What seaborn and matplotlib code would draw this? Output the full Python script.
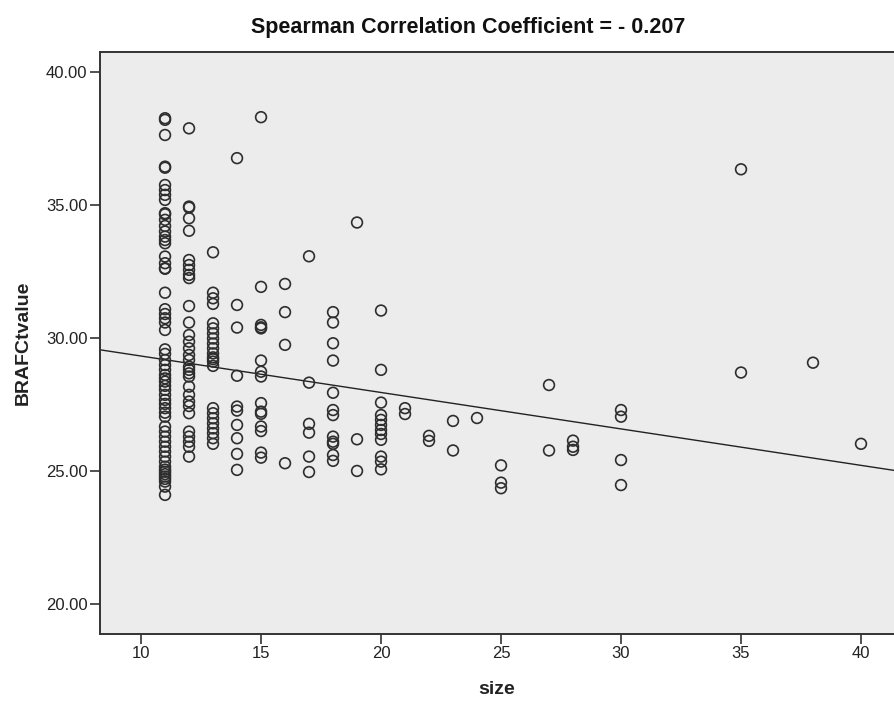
import matplotlib
matplotlib.use("Agg")
import matplotlib.pyplot as plt
import seaborn as sns
import numpy as np
import pandas as pd
from matplotlib.ticker import FormatStrFormatter

# BRAF Ct value per tumour size
ct_11 = [38.26, 38.2, 37.63, 36.44, 36.4, 35.75, 35.56, 35.38, 35.19, 34.69, 34.65,
         34.44, 34.21, 34.0, 33.81, 33.68, 33.56, 33.06, 32.81, 32.62, 32.6, 31.70,
         31.08, 30.90, 30.74, 30.58, 30.30, 29.57, 29.40, 29.17, 28.98, 28.80, 28.61,
         28.48, 28.36, 28.20, 28.05, 27.86, 27.67, 27.52, 27.36, 27.19, 27.04, 26.67,
         26.48, 26.29, 26.10, 25.91, 25.73, 25.54, 25.35, 25.16, 25.05, 24.97, 24.88,
         24.79, 24.7, 24.60, 24.41, 24.10]
ct_12 = [37.88, 34.94, 34.9, 34.5, 34.03, 32.93, 32.74, 32.56, 32.37, 32.25, 31.2,
         30.58, 30.11, 29.86, 29.61, 29.36, 29.17, 28.92, 28.80, 28.67, 28.55, 28.17,
         27.86, 27.61, 27.44, 27.17, 26.48, 26.29, 26.10, 25.91, 25.54]
ct_13 = [33.22, 31.70, 31.49, 31.28, 30.55, 30.36, 30.17, 29.98, 29.79, 29.61, 29.42,
         29.27, 29.2, 29.11, 28.95, 27.36, 27.17, 26.98, 26.79, 26.60, 26.42, 26.23, 26.02]
ct_14 = [36.76, 31.24, 30.39, 28.58, 27.42, 27.27, 26.73, 26.23, 25.64, 25.04]
ct_15 = [38.3, 31.92, 30.49, 30.4, 30.36, 29.15, 28.73, 28.55, 27.55, 27.23, 27.15,
         26.67, 26.5, 25.69, 25.5]
ct_16 = [32.03, 30.97, 29.74, 25.29]
ct_17 = [33.07, 28.32, 26.77, 26.44, 25.54, 24.96]
ct_18 = [30.97, 30.58, 29.80, 29.15, 27.94, 27.29, 27.1, 26.29, 26.10, 26.02, 25.60, 25.38]
ct_19 = [34.34, 26.19, 25.0]
ct_20 = [31.03, 28.80, 27.57, 27.1, 26.92, 26.73, 26.54, 26.39, 26.17, 25.54, 25.35, 25.06]
ct_21 = [27.36, 27.14]
ct_22 = [26.32, 26.13]
ct_23 = [26.88, 25.77]
ct_24 = [26.99]
ct_25 = [25.21, 24.56, 24.35]
ct_27 = [28.23, 25.77]
ct_28 = [26.14, 25.91, 25.79]
ct_30 = [27.29, 27.04, 25.41, 24.47]
ct_35 = [36.34, 28.70]
ct_38 = [29.07]
ct_40 = [26.02]

ct_by_size = {11: ct_11, 12: ct_12, 13: ct_13, 14: ct_14, 15: ct_15, 16: ct_16,
              17: ct_17, 18: ct_18, 19: ct_19, 20: ct_20, 21: ct_21, 22: ct_22,
              23: ct_23, 24: ct_24, 25: ct_25, 27: ct_27, 28: ct_28, 30: ct_30,
              35: ct_35, 38: ct_38, 40: ct_40}

# fit line as drawn in the reference (intercept, slope)
fit_intercept = 30.69
fit_slope = -0.137

x_ticks = [10, 15, 20, 25, 30, 35, 40]
y_ticks = [20, 25, 30, 35, 40]
title = "Spearman Correlation Coefficient = - 0.207"

df = pd.DataFrame([(s, v) for s, vals in ct_by_size.items() for v in vals],
                  columns=["size", "BRAFCtvalue"])

sns.set_style("ticks")
plt.rcParams["font.family"] = ["Liberation Sans", "DejaVu Sans"]

fig = plt.figure(figsize=(8.94, 7.03), dpi=100)
ax = fig.add_axes([100 / 894, 69 / 703, 794 / 894, 582 / 703])
ax.set_facecolor("#ececec")
xlim = (8.29, 41.375)
ax.set_xlim(*xlim)
ax.set_ylim(18.87, 40.75)

sns.scatterplot(data=df, x="size", y="BRAFCtvalue", ax=ax, marker="o", s=60,
                facecolor="none", edgecolor="#2e2e2e", linewidth=1.2, zorder=3)

fit_x = np.array(xlim)
ax.plot(fit_x, fit_intercept + fit_slope * fit_x, color="#222222", lw=1.0, zorder=2)

ax.set_xlim(*xlim)
ax.set_ylim(18.87, 40.75)
ax.set_xticks(x_ticks)
ax.set_yticks(y_ticks)
ax.yaxis.set_major_formatter(FormatStrFormatter("%.2f"))
ax.tick_params(axis="both", length=7, width=1.2, color="#333333",
               labelsize=12, labelcolor="#222222", pad=2)
for side in ["left", "bottom", "top"]:
    ax.spines[side].set_color("#333333")
    ax.spines[side].set_linewidth(1.4)
ax.spines["right"].set_visible(False)

ax.set_xlabel("size", fontsize=14, fontweight="bold", color="#222222", labelpad=14)
ax.set_ylabel("BRAFCtvalue", fontsize=14, fontweight="bold", color="#222222", labelpad=10)
fig.text(468 / 894, 1 - 27 / 703, title, ha="center", va="center",
         fontsize=15.5, fontweight="bold", color="#111111")

fig.savefig("out.png", dpi=100)
